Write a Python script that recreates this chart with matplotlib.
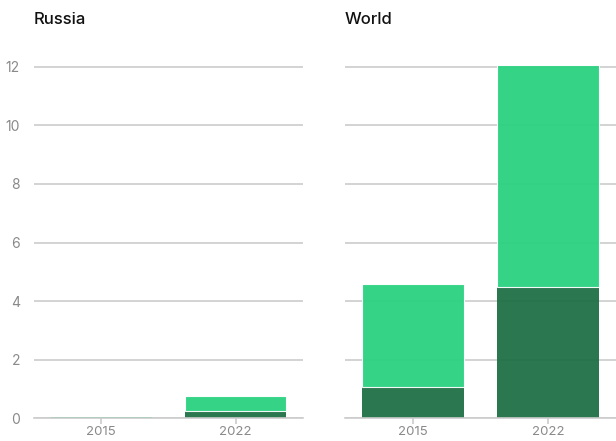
import matplotlib.pyplot as plt

plt.rcParams["font.family"] = ["Inter", "DejaVu Sans"]

years = ["2015", "2022"]
russia_dark = [0.015, 0.23]
russia_light = [0.025, 0.52]
world_dark = [1.07, 4.49]
world_light = [3.50, 7.59]
yticks = [0, 2, 4, 6, 8, 10, 12]

DARK = "#1f7046"
LIGHT = "#2ad180"
GRID = "#cccccc"
TICK = "#8a8a8a"

fig = plt.figure(figsize=(6.16, 4.41), dpi=100)
ax1 = fig.add_axes([0.055, 0.052, 0.437, 0.836])
ax2 = fig.add_axes([0.560, 0.052, 0.440, 0.836])


def draw_panel(ax, dark, light, title, show_labels):
    x = range(len(years))
    # white separator only where the segment is tall enough to show it
    lw = [0.8 if v > 0.1 else 0 for v in light]
    ax.bar(x, dark, width=0.75, color=DARK, alpha=0.95, linewidth=0, zorder=2)
    ax.bar(x, light, width=0.75, bottom=dark, color=LIGHT, alpha=0.95,
           edgecolor="white", linewidth=lw, zorder=2)
    ax.set_xticks(list(x))
    ax.set_xticklabels(years)
    ax.set_xlim(-0.5, 1.5)
    ax.set_ylim(0, 12.6)
    ax.set_yticks(yticks)
    ax.yaxis.grid(True, color=GRID, linewidth=1.2, zorder=1)
    ax.set_axisbelow(True)
    for s in ["top", "right", "left"]:
        ax.spines[s].set_visible(False)
    ax.spines["bottom"].set_color(GRID)
    ax.spines["bottom"].set_linewidth(1.2)
    ax.tick_params(axis="x", colors=GRID, labelcolor=TICK, labelsize=9.5,
                   length=4, width=1.2, pad=1.5)
    ax.tick_params(axis="y", length=0, labelcolor=TICK, labelsize=10, pad=10)
    if not show_labels:
        ax.set_yticklabels([])
    ax.set_title(title, loc="left", fontsize=12, fontweight=500,
                 color="#111111", pad=18)


draw_panel(ax1, russia_dark, russia_light, "Russia", True)
draw_panel(ax2, world_dark, world_light, "World", False)

fig.savefig("out.png", dpi=100)
